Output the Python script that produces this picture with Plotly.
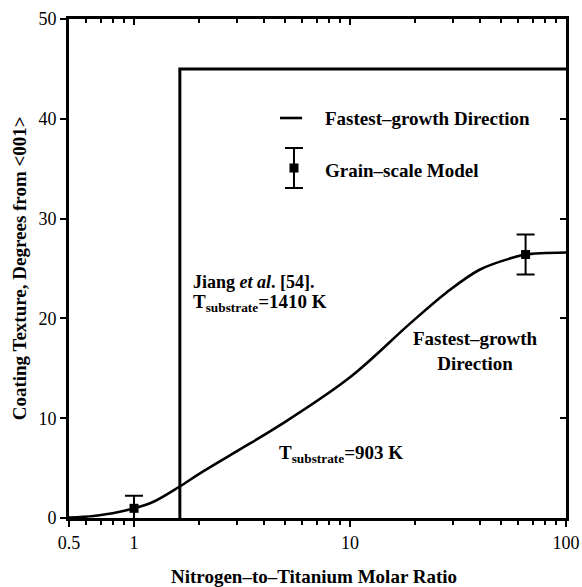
import plotly.graph_objects as go

# Fastest-growth direction curve (T_substrate = 903 K)
curve_ratio = [0.5, 0.65, 0.86, 1.0, 1.23, 1.62, 2.02, 3.0, 4.74, 10, 19, 28, 40, 57, 65, 100]
curve_deg = [0.05, 0.2, 0.63, 0.97, 1.63, 3.13, 4.47, 6.7, 9.3, 14.1, 19.5, 22.6, 24.9, 26.1, 26.4, 26.6]

# Jiang et al. [54], T_substrate = 1410 K
jiang_ratio = [1.63, 1.63, 100]
jiang_deg = [0, 45, 45]

# Grain-scale model points with error bars
model_ratio = [1.0, 65]
model_deg = [0.97, 26.4]
model_err = [1.25, 2.0]

x_major = [0.5, 1, 10, 100]
x_labels = ["0.5", "1", "10", "100"]
x_minor = [0.6, 0.7, 0.8, 0.9, 2, 3, 4, 5, 6, 7, 8, 9, 20, 30, 40, 50, 60, 70, 80, 90]
y_major = [0, 10, 20, 30, 40, 50]

XRANGE = [-0.30103, 2.0]
YRANGE = [0, 50]
SERIF = "Liberation Serif, Times New Roman, serif"

fig = go.Figure()

fig.add_trace(go.Scatter(x=jiang_ratio, y=jiang_deg, mode="lines",
                         line=dict(color="black", width=3), showlegend=False))
fig.add_trace(go.Scatter(x=curve_ratio, y=curve_deg, mode="lines",
                         line=dict(color="black", width=2.6, shape="spline", smoothing=1.0),
                         showlegend=False))
fig.add_trace(go.Scatter(x=model_ratio, y=model_deg, mode="markers",
                         marker=dict(symbol="square", size=9, color="black"),
                         error_y=dict(type="data", array=model_err, color="black",
                                      thickness=2, width=9),
                         showlegend=False, cliponaxis=True))

# mirror axes (top / right) carry the inward ticks
fig.add_trace(go.Scatter(x=[1], y=[0], xaxis="x2", yaxis="y2", mode="markers",
                         marker=dict(opacity=0), showlegend=False, hoverinfo="skip"))

# key glyphs drawn on a unit overlay
fig.add_trace(go.Scatter(x=[0.4245, 0.469], y=[0.8016, 0.8016], xaxis="x3", yaxis="y3",
                         mode="lines", line=dict(color="black", width=2.6),
                         showlegend=False, hoverinfo="skip"))
fig.add_trace(go.Scatter(x=[0.4527], y=[0.7014], xaxis="x3", yaxis="y3", mode="markers",
                         marker=dict(symbol="square", size=9, color="black"),
                         error_y=dict(type="constant", value=0.04, color="black",
                                      thickness=2, width=9),
                         showlegend=False, hoverinfo="skip"))

tick_font = dict(family=SERIF, size=18, color="black")

fig.update_layout(
    width=582, height=587,
    margin=dict(l=69, r=16, t=19, b=69),
    paper_bgcolor="white", plot_bgcolor="white",
    showlegend=False,
    xaxis=dict(type="log", range=XRANGE, showgrid=False, zeroline=False, automargin=False,
               showline=True, linecolor="black", linewidth=3, mirror=True,
               tickmode="array", tickvals=x_major, ticktext=x_labels,
               ticks="outside", ticklen=6, tickwidth=2, tickcolor="black",
               tickfont=tick_font,
               minor=dict(tickmode="array", tickvals=x_minor, ticks="outside",
                          ticklen=4, tickwidth=1.5, tickcolor="black")),
    yaxis=dict(range=YRANGE, showgrid=False, zeroline=False, automargin=False,
               showline=True, linecolor="black", linewidth=3, mirror=True,
               tickmode="array", tickvals=y_major,
               ticks="outside", ticklen=6, tickwidth=2, tickcolor="black",
               tickfont=tick_font),
    xaxis2=dict(type="log", range=XRANGE, overlaying="x", side="top", automargin=False,
                showgrid=False, zeroline=False, showline=False,
                tickmode="array", tickvals=x_major, showticklabels=False,
                ticks="inside", ticklen=6, tickwidth=2, tickcolor="black",
                minor=dict(tickmode="array", tickvals=x_minor, ticks="inside",
                           ticklen=4, tickwidth=1.5, tickcolor="black")),
    yaxis2=dict(range=YRANGE, overlaying="y", side="right", automargin=False,
                showgrid=False, zeroline=False, showline=False,
                tickmode="array", tickvals=y_major, showticklabels=False,
                ticks="inside", ticklen=6, tickwidth=2, tickcolor="black"),
    xaxis3=dict(range=[0, 1], overlaying="x", visible=False),
    yaxis3=dict(range=[0, 1], overlaying="y", visible=False),
)


def label(text, x, y, xanchor="left", size=19, angle=0):
    fig.add_annotation(text=text, x=x, y=y, xref="paper", yref="paper",
                       xanchor=xanchor, yanchor="middle", showarrow=False,
                       font=dict(family=SERIF, size=size, color="black"),
                       align="center", textangle=angle)


# axis titles
label("<b>Nitrogen–to–Titanium Molar Ratio</b>", 0.492, -0.118, xanchor="center")
label("<b>Coating Texture, Degrees from &lt;001&gt;</b>", -0.099, 0.5, xanchor="center",
      angle=-90)

label("<b>Fastest–growth Direction</b>", 0.511, 0.8016)
label("<b>Grain–scale Model</b>", 0.511, 0.697)
label("<b>Jiang <i>et al</i>. [54].</b>", 0.245, 0.472, size=18)
label("<b>T<sub>substrate</sub>=1410 K</b>", 0.245, 0.43)
label("<b>Fastest–growth<br>Direction</b>", 0.817, 0.334, xanchor="center")
label("<b>T<sub>substrate</sub>=903 K</b>", 0.418, 0.128)

fig.write_html("out.html")
